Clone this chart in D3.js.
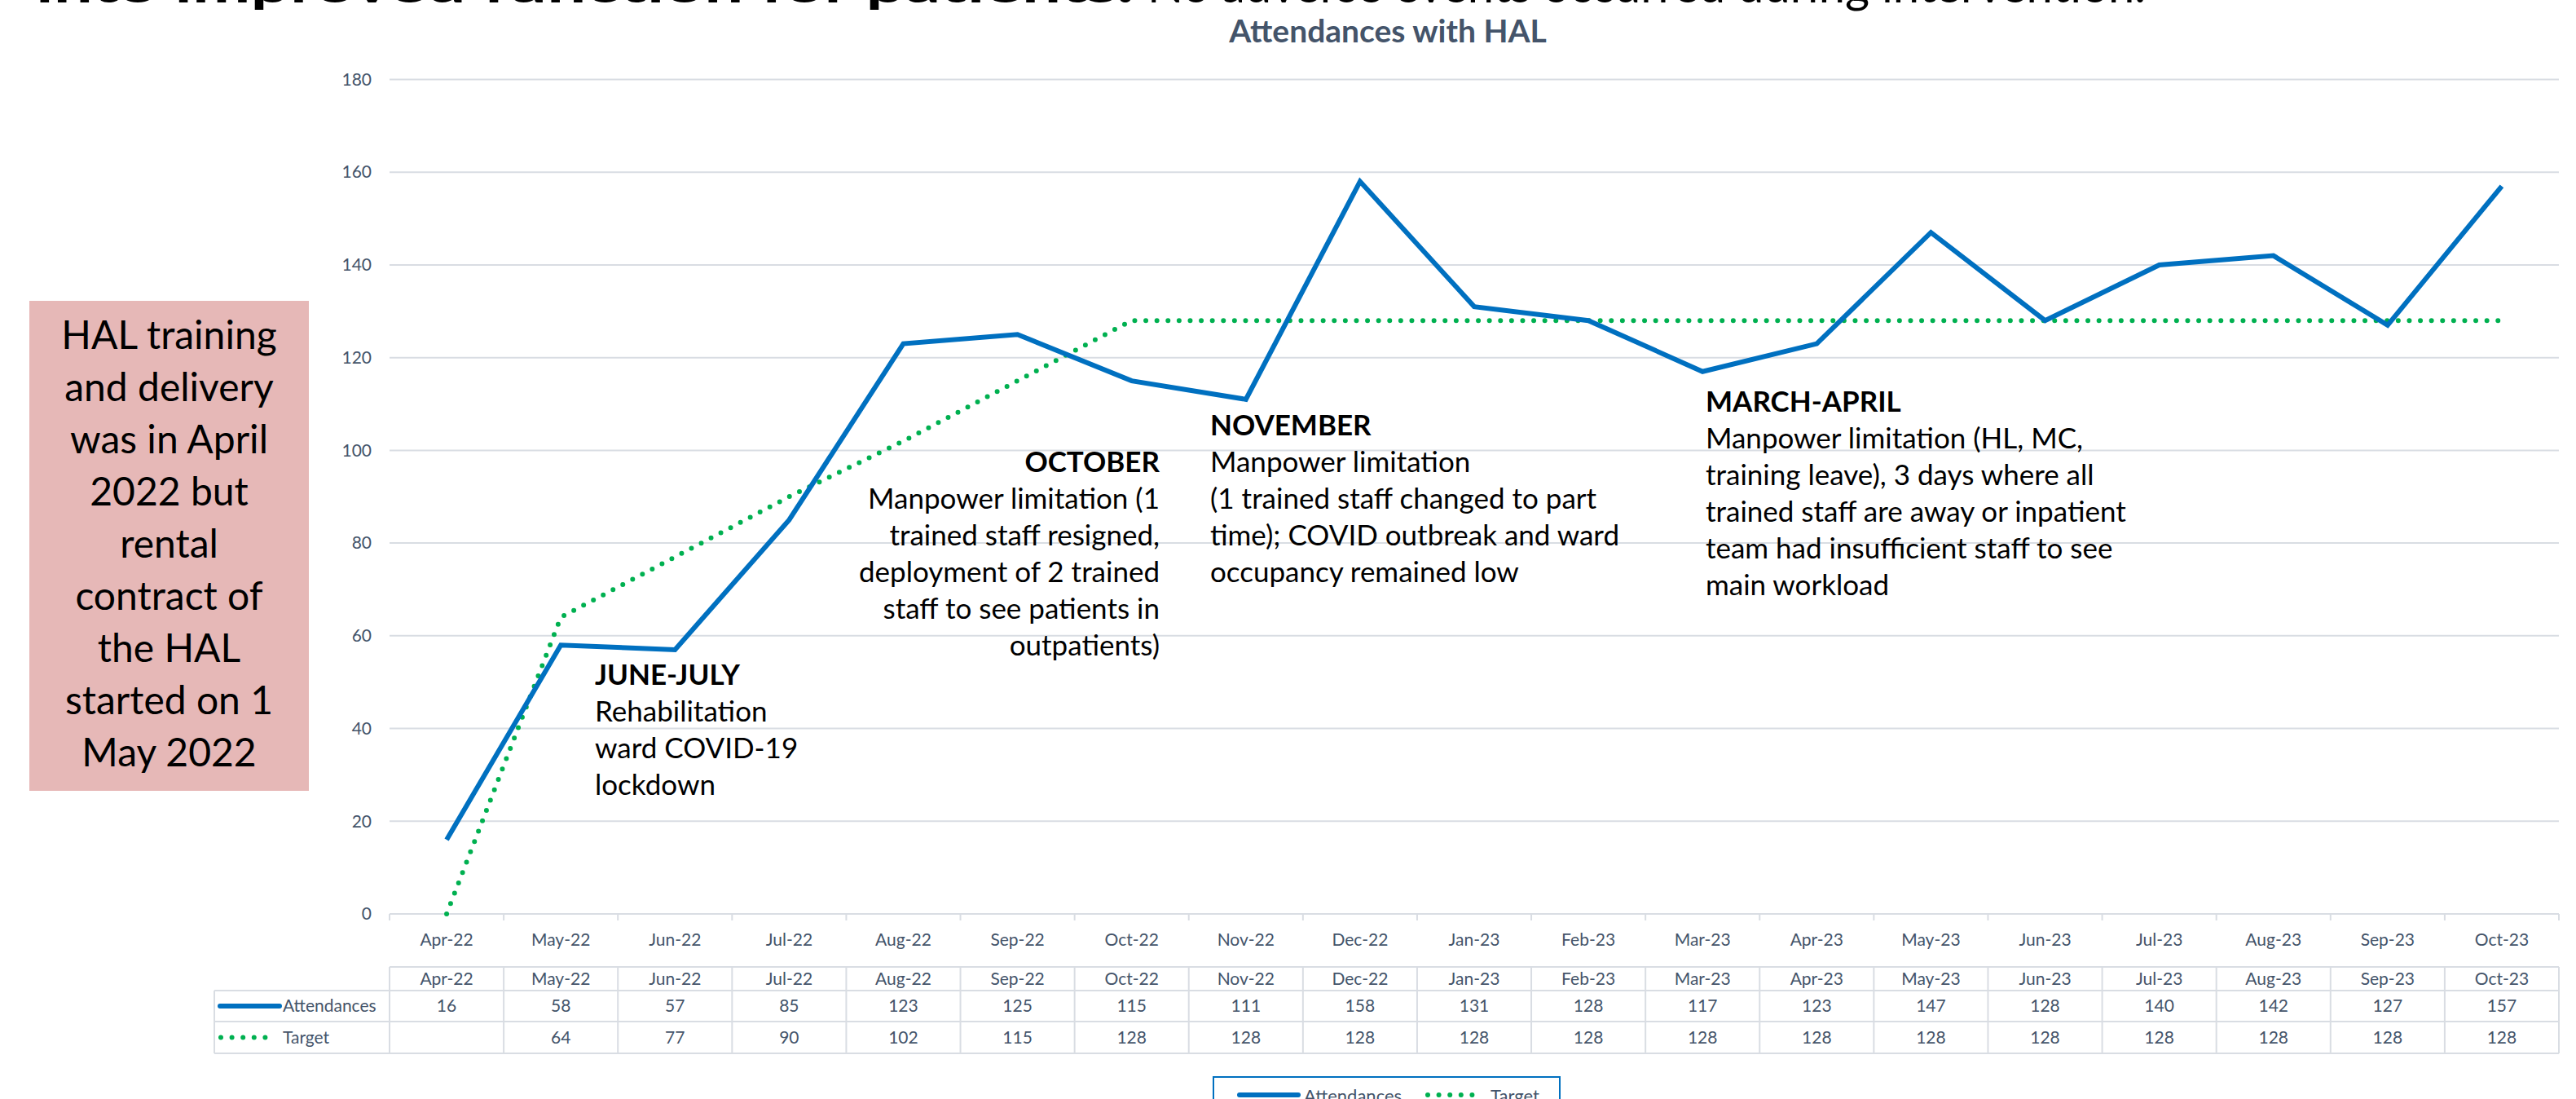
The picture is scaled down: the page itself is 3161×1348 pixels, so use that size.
<!DOCTYPE html>
<html>
<head>
<meta charset="utf-8">
<script src="https://cdn.jsdelivr.net/npm/d3@7"></script>
<style>
  html, body { margin: 0; padding: 0; background: #ffffff; }
  svg { display: block; }
  text { font-family: Lato, "Open Sans", sans-serif; }
</style>
</head>
<body>
<svg id="chart" width="3161" height="1348"></svg>
<script>
// ---------------- data ----------------
const categories = ["Apr-22","May-22","Jun-22","Jul-22","Aug-22","Sep-22","Oct-22","Nov-22","Dec-22","Jan-23","Feb-23","Mar-23","Apr-23","May-23","Jun-23","Jul-23","Aug-23","Sep-23","Oct-23"];
const attendances = [16,58,57,85,123,125,115,111,158,131,128,117,123,147,128,140,142,127,157];
const target = [null,64,77,90,102,115,128,128,128,128,128,128,128,128,128,128,128,128,128];
const yTicks = [0,20,40,60,80,100,120,140,160,180];
const seriesNames = ["Attendances","Target"];
const chartTitle = "Attendances with HAL";
const headlineBold = "into improved function for patients.";
const headlineNormal = "No adverse events occurred during intervention.";
const sideNote = ["HAL training","and delivery","was in April","2022 but","rental","contract of","the HAL","started on 1","May 2022"];
const notes = [
  {head:"JUNE-JULY", lines:["Rehabilitation","ward COVID-19","lockdown"], anchor:"start"},
  {head:"OCTOBER", lines:["Manpower limitation (1","trained staff resigned,","deployment of 2 trained","staff to see patients in","outpatients)"], anchor:"end"},
  {head:"NOVEMBER", lines:["Manpower limitation","(1 trained staff changed to part","time); COVID outbreak and ward","occupancy remained low"], anchor:"start"},
  {head:"MARCH-APRIL", lines:["Manpower limitation (HL, MC,","training leave), 3 days where all","trained staff are away or inpatient","team had insufficient staff to see","main workload"], anchor:"start"}
];

// ---------------- layout ----------------
const svg = d3.select("#chart");
const plotLeft = 478, plotRight = 3140, plotTop = 97.5, plotBottom = 1121;
const blue = "#0070c0", green = "#00b050", axisText = "#44546a", grid = "#d9dde3";

const x = d3.scaleBand().domain(categories).range([plotLeft, plotRight]).padding(0);
const y = d3.scaleLinear().domain([0, 180]).range([plotBottom, plotTop]);
const cx = c => x(c) + x.bandwidth() / 2;

// headline (cut off at top, as in the reference)
svg.append("text").attr("x", 44).attr("y", 3)
  .attr("font-size", 56).attr("font-weight", 700).attr("fill", "#000")
  .attr("textLength", 1347).attr("lengthAdjust", "spacingAndGlyphs")
  .text(headlineBold);
svg.append("text").attr("x", 1408).attr("y", 3)
  .attr("font-size", 56).attr("font-weight", 400).attr("fill", "#000")
  .attr("textLength", 1225).attr("lengthAdjust", "spacingAndGlyphs")
  .text(headlineNormal);

// chart title
svg.append("text").attr("x", 1703).attr("y", 52)
  .attr("text-anchor", "middle").attr("font-size", 39).attr("font-weight", 700)
  .attr("fill", axisText).text(chartTitle);

// gridlines
svg.append("g").selectAll("line").data(yTicks.filter(t => t > 0)).join("line")
  .attr("x1", plotLeft).attr("x2", plotRight)
  .attr("y1", d => y(d)).attr("y2", d => y(d))
  .attr("stroke", grid).attr("stroke-width", 2);

// y axis labels
const yAxis = svg.append("g").attr("transform", `translate(${plotLeft},0)`)
  .call(d3.axisLeft(y).tickValues(yTicks).tickSize(0).tickPadding(22));
yAxis.select(".domain").remove();
yAxis.selectAll("text").attr("font-size", 21).attr("fill", axisText)
  .attr("font-family", "Lato, sans-serif");

// x axis line + boundary ticks
svg.append("line").attr("x1", plotLeft).attr("x2", plotRight)
  .attr("y1", plotBottom).attr("y2", plotBottom).attr("stroke", grid).attr("stroke-width", 2);
const bounds = categories.map(c => x(c)).concat([plotRight]);
svg.append("g").selectAll("line").data(bounds).join("line")
  .attr("x1", d => d).attr("x2", d => d).attr("y1", plotBottom).attr("y2", plotBottom + 8)
  .attr("stroke", grid).attr("stroke-width", 2);

// x axis labels
const xAxis = svg.append("g").attr("transform", `translate(0,${plotBottom})`)
  .call(d3.axisBottom(x).tickSize(0).tickPadding(24));
xAxis.select(".domain").remove();
xAxis.selectAll("text").attr("font-size", 21).attr("fill", axisText)
  .attr("font-family", "Lato, sans-serif");

// data table
const tTop = 1186, r1 = 1215, r2 = 1253, r3 = 1292, tLeft = 263;
const tg = svg.append("g");
tg.append("line").attr("x1", plotLeft).attr("x2", plotRight).attr("y1", tTop).attr("y2", tTop)
  .attr("stroke", grid).attr("stroke-width", 2);
[r1, r2, r3].forEach(v => tg.append("line").attr("x1", tLeft).attr("x2", plotRight)
  .attr("y1", v).attr("y2", v).attr("stroke", grid).attr("stroke-width", 2));
tg.selectAll("line.v").data(bounds).join("line").attr("class", "v")
  .attr("x1", d => d).attr("x2", d => d).attr("y1", tTop).attr("y2", r3)
  .attr("stroke", grid).attr("stroke-width", 2);
tg.append("line").attr("x1", tLeft).attr("x2", tLeft).attr("y1", r1).attr("y2", r3)
  .attr("stroke", grid).attr("stroke-width", 2);
tg.selectAll("text.h").data(categories).join("text").attr("class", "h")
  .attr("x", d => cx(d)).attr("y", (tTop + r1) / 2 + 7).attr("text-anchor", "middle")
  .attr("font-size", 21).attr("fill", axisText).text(d => d);
tg.selectAll("text.a").data(attendances).join("text").attr("class", "a")
  .attr("x", (d, i) => cx(categories[i])).attr("y", (r1 + r2) / 2 + 7).attr("text-anchor", "middle")
  .attr("font-size", 21).attr("fill", axisText).text(d => d);
tg.selectAll("text.t").data(target).join("text").attr("class", "t")
  .attr("x", (d, i) => cx(categories[i])).attr("y", (r2 + r3) / 2 + 7).attr("text-anchor", "middle")
  .attr("font-size", 21).attr("fill", axisText).text(d => d == null ? "" : d);
// table legend keys
tg.append("line").attr("x1", 270).attr("x2", 343).attr("y1", (r1 + r2) / 2).attr("y2", (r1 + r2) / 2)
  .attr("stroke", blue).attr("stroke-width", 6).attr("stroke-linecap", "round");
tg.append("text").attr("x", 347).attr("y", (r1 + r2) / 2 + 7).attr("font-size", 21)
  .attr("fill", axisText).text(seriesNames[0]);
tg.append("line").attr("x1", 271).attr("x2", 330).attr("y1", (r2 + r3) / 2).attr("y2", (r2 + r3) / 2)
  .attr("stroke", green).attr("stroke-width", 6).attr("stroke-linecap", "round")
  .attr("stroke-dasharray", "0 13.6");
tg.append("text").attr("x", 347).attr("y", (r2 + r3) / 2 + 7).attr("font-size", 21)
  .attr("fill", axisText).text(seriesNames[1]);

// series lines
const line = d3.line().x(d => cx(d.c)).y(d => y(d.v));
svg.append("path")
  .datum(target.map((v, i) => ({c: categories[i], v: v == null ? 0 : v})))
  .attr("d", line).attr("fill", "none").attr("stroke", green).attr("stroke-width", 6)
  .attr("stroke-linecap", "round").attr("stroke-dasharray", "0 13.6");
svg.append("path")
  .datum(attendances.map((v, i) => ({c: categories[i], v})))
  .attr("d", line).attr("fill", "none").attr("stroke", blue).attr("stroke-width", 6)
  .attr("stroke-linejoin", "miter");

// annotations
const notePos = [
  {x: 730, y: 840},
  {x: 1423, y: 579},
  {x: 1485, y: 534},
  {x: 2093, y: 505}
];
const lh = 45;
notes.forEach((n, k) => {
  const t = svg.append("text").attr("x", notePos[k].x).attr("y", notePos[k].y)
    .attr("text-anchor", n.anchor).attr("font-size", 35).attr("fill", "#000");
  t.append("tspan").attr("x", notePos[k].x).attr("font-weight", 700).text(n.head);
  n.lines.forEach(l => t.append("tspan").attr("x", notePos[k].x).attr("dy", lh).text(l));
});

// side note box
svg.append("rect").attr("x", 36).attr("y", 369).attr("width", 343).attr("height", 601)
  .attr("fill", "#e6b8b7");
const st = svg.append("text").attr("x", 207.5).attr("y", 427.5).attr("text-anchor", "middle")
  .attr("font-size", 48).attr("fill", "#000");
sideNote.forEach((l, i) => st.append("tspan").attr("x", 207.5).attr("dy", i === 0 ? 0 : 64).text(l));

// bottom legend (partially cut, as in the reference)
const lg = svg.append("g");
lg.append("rect").attr("x", 1489).attr("y", 1321).attr("width", 425).attr("height", 60)
  .attr("fill", "#fff").attr("stroke", blue).attr("stroke-width", 2);
lg.append("line").attr("x1", 1521).attr("x2", 1593).attr("y1", 1343).attr("y2", 1343)
  .attr("stroke", blue).attr("stroke-width", 6).attr("stroke-linecap", "round");
lg.append("text").attr("x", 1600).attr("y", 1352).attr("font-size", 22).attr("fill", axisText).text(seriesNames[0]);
lg.append("line").attr("x1", 1752).attr("x2", 1810).attr("y1", 1343).attr("y2", 1343)
  .attr("stroke", green).attr("stroke-width", 6).attr("stroke-linecap", "round")
  .attr("stroke-dasharray", "0 13.6");
lg.append("text").attr("x", 1829).attr("y", 1352).attr("font-size", 22).attr("fill", axisText).text(seriesNames[1]);
</script>
</body>
</html>
